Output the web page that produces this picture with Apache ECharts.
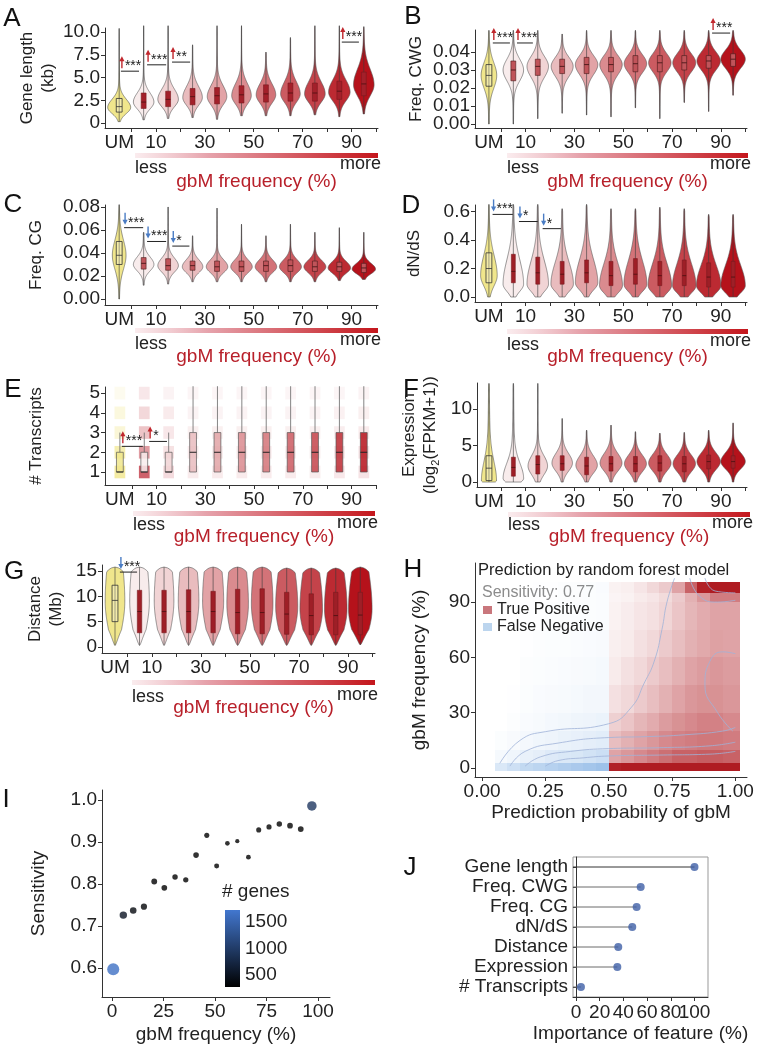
<!DOCTYPE html>
<html><head><meta charset="utf-8">
<script src="https://cdn.jsdelivr.net/npm/echarts@6/dist/echarts.min.js"></script>
<style>html,body{margin:0;padding:0;background:#fff}#c{width:761px;height:1048px}</style>
</head><body><div id="c"></div>
<script>
const FONT = 'Liberation Sans, Arial, Helvetica, sans-serif';

// ---------- categories / ticks ----------
const bins = ['UM','0-10','10-20','20-30','30-40','40-50','50-60','60-70','70-80','80-90','90-100'];
const binTickPos = [0.5,1.5,2.5,3.5,4.5,5.5,6.5,7.5,8.5,9.5,10.5];
const binLabelPos = [0,1.5,3.5,5.5,7.5,9.5];
const binLabelText = ['UM','10','30','50','70','90'];
const cwgTicks = [0,0.01,0.02,0.03,0.04];

// ---------- violin stats: [lo, mode, hi, halfWidth, sdBelow, sdAbove, tail, q1, median, q3] ----------
const geneLength = [
 [0.15,1.7,10.4,0.47,0.65,0.9,0.12,1.2,1.8,2.7],
 [0.35,2.3,10.7,0.42,0.75,1.0,0.12,1.6,2.3,3.3],
 [0.5,2.6,10.7,0.42,0.8,1.1,0.12,1.8,2.6,3.5],
 [0.6,2.8,8.6,0.40,0.85,1.2,0.12,2.0,2.9,3.8],
 [0.4,2.9,10.7,0.40,0.9,1.2,0.12,2.1,3.0,3.9],
 [0.8,3.0,10.7,0.40,0.9,1.3,0.12,2.2,3.1,4.1],
 [0.8,3.1,7.8,0.40,0.9,1.2,0.12,2.3,3.2,4.2],
 [0.8,3.2,9.4,0.40,0.9,1.3,0.12,2.4,3.3,4.4],
 [0.9,3.2,10.7,0.42,0.9,1.3,0.12,2.4,3.3,4.4],
 [0.7,3.4,10.7,0.44,0.95,1.3,0.12,2.6,3.5,4.6],
 [1.0,4.2,10.6,0.42,1.2,1.7,0.12,3.0,4.3,5.6]
];
const freqCWG = [
 [0.000,0.027,0.052,0.32,0.007,0.007,0.15,0.021,0.027,0.033],
 [0.000,0.030,0.052,0.42,0.006,0.006,0.12,0.024,0.030,0.035],
 [0.003,0.032,0.052,0.44,0.006,0.0055,0.12,0.027,0.032,0.036],
 [0.006,0.032,0.050,0.45,0.0055,0.005,0.12,0.028,0.032,0.036],
 [0.005,0.033,0.052,0.46,0.0055,0.005,0.12,0.028,0.033,0.037],
 [0.004,0.033,0.052,0.46,0.0055,0.005,0.12,0.029,0.033,0.037],
 [0.009,0.0335,0.052,0.46,0.005,0.005,0.12,0.029,0.0335,0.038],
 [0.003,0.034,0.052,0.46,0.005,0.005,0.12,0.029,0.034,0.038],
 [0.012,0.034,0.052,0.47,0.005,0.005,0.12,0.030,0.034,0.038],
 [0.007,0.035,0.052,0.48,0.005,0.005,0.12,0.031,0.035,0.038],
 [0.016,0.036,0.052,0.50,0.005,0.005,0.12,0.032,0.036,0.039]
];
const freqCG = [
 [0.000,0.038,0.082,0.28,0.012,0.013,0.15,0.030,0.038,0.050],
 [0.012,0.030,0.058,0.42,0.0055,0.0065,0.15,0.026,0.031,0.036],
 [0.013,0.029,0.080,0.42,0.0055,0.0065,0.12,0.025,0.029,0.035],
 [0.015,0.028,0.055,0.42,0.005,0.006,0.12,0.025,0.029,0.033],
 [0.015,0.028,0.079,0.44,0.005,0.006,0.12,0.024,0.028,0.033],
 [0.015,0.028,0.065,0.44,0.005,0.006,0.12,0.024,0.028,0.033],
 [0.015,0.028,0.055,0.44,0.005,0.006,0.12,0.024,0.029,0.033],
 [0.015,0.028,0.065,0.45,0.005,0.006,0.12,0.024,0.029,0.034],
 [0.015,0.028,0.058,0.45,0.005,0.0055,0.12,0.024,0.028,0.033],
 [0.016,0.027,0.062,0.46,0.0045,0.0055,0.12,0.024,0.028,0.032],
 [0.017,0.026,0.058,0.48,0.004,0.005,0.12,0.023,0.027,0.031]
];
const dNdS = [
 [0,0.15,0.65,0.34,0.07,0.14,0.15,0.10,0.20,0.31],
 [0,0.09,0.65,0.42,0.05,0.17,0.15,0.10,0.18,0.30],
 [0,0.09,0.65,0.44,0.05,0.16,0.15,0.09,0.17,0.28],
 [0,0.09,0.62,0.46,0.05,0.15,0.15,0.09,0.16,0.25],
 [0,0.10,0.65,0.46,0.05,0.16,0.15,0.10,0.17,0.26],
 [0,0.08,0.62,0.47,0.05,0.15,0.15,0.08,0.15,0.25],
 [0,0.09,0.62,0.47,0.05,0.16,0.15,0.09,0.16,0.27],
 [0,0.08,0.63,0.48,0.05,0.15,0.15,0.08,0.15,0.25],
 [0,0.08,0.62,0.48,0.05,0.15,0.15,0.08,0.15,0.26],
 [0,0.08,0.58,0.50,0.05,0.14,0.15,0.07,0.14,0.24],
 [0,0.08,0.58,0.50,0.05,0.14,0.15,0.07,0.14,0.25]
];
const expression = [
 [0,0.2,13.5,0.31,0.3,2.5,0.4,0.2,1.9,3.6],
 [0,0.5,13.5,0.42,0.6,2.0,0.3,0.8,2.0,3.4],
 [0,2.2,13.5,0.40,1.2,1.4,0.15,1.1,2.4,3.6],
 [0,2.6,8.7,0.42,1.1,1.3,0.12,1.6,2.5,3.6],
 [0,2.3,7.1,0.44,1.1,1.3,0.12,1.0,2.2,3.4],
 [0,2.6,7.8,0.45,1.1,1.3,0.12,1.5,2.5,3.5],
 [0,2.5,6.9,0.45,1.1,1.2,0.12,1.4,2.5,3.5],
 [0,2.6,6.7,0.46,1.1,1.2,0.12,1.5,2.6,3.6],
 [0,2.5,6.8,0.46,1.1,1.2,0.12,1.4,2.5,3.5],
 [0,2.8,7.1,0.48,1.1,1.2,0.12,1.8,2.8,3.7],
 [0,2.8,8.1,0.50,1.0,1.2,0.12,1.9,2.8,3.6]
];
const distance = [
 [0.3,9.0,15.8,0.40,6.0,10,0.1,5.0,9.2,12.2],
 [0.3,9.0,15.8,0.40,6.0,10,0.1,2.8,7.0,11.2],
 [0.3,9.0,15.8,0.40,6.0,10,0.1,2.8,7.0,11.2],
 [0.3,9.0,15.8,0.42,6.0,10,0.1,2.8,7.0,11.3],
 [0.3,9.0,15.8,0.43,6.0,10,0.1,2.8,7.0,11.0],
 [0.3,8.5,15.8,0.44,6.0,10,0.1,2.6,6.8,11.4],
 [0.3,8.5,15.8,0.44,6.0,10,0.1,2.6,6.8,11.5],
 [0.3,8.0,15.6,0.45,5.5,9,0.1,2.5,6.5,10.8],
 [0.3,7.5,15.6,0.46,5.0,9,0.1,2.4,6.2,10.5],
 [0.3,7.5,15.6,0.46,5.0,9,0.1,2.4,6.2,10.8],
 [0.4,7.5,15.8,0.48,5.0,9,0.1,2.4,6.3,10.8]
];
// # transcripts boxplots: [q1, median, q3, upper whisker]
const transcriptsBox = [
 [1,1,2,3],[1,1,2,3],[1,1,2,3],[1,2,3,5.35],[1,2,3,5.35],[1,2,3,5.35],
 [1,2,3,5.35],[1,2,3,5.35],[1,2,3,5.35],[1,2,3,5.35],[1,2,3,5.35]
];
// point-cloud intensity at 1..5 transcripts
const transcriptsDots = [
 [0.7,0.6,0.3,0.25,0.12],[0.8,0.5,0.3,0.2,0.12],[0.18,0.15,0.12,0.1,0.06],
 [0.1,0.1,0.08,0.06,0.05],[0.1,0.1,0.08,0.06,0.05],[0.1,0.1,0.08,0.06,0.05],
 [0.1,0.1,0.08,0.06,0.05],[0.1,0.1,0.08,0.06,0.05],[0.1,0.1,0.08,0.06,0.05],
 [0.12,0.12,0.09,0.07,0.05],[0.14,0.14,0.1,0.08,0.06]
];

// significance marks: [xStart, xEnd, y, nStars, direction(1 up / -1 down)]
const sigA = [[0.07,0.81,5.7,3,1],[1.14,1.92,6.4,3,1],[2.16,2.9,6.7,2,1],[9.1,9.8,8.9,3,1]];
const sigB = [[0.16,0.86,0.045,3,1],[1.15,1.8,0.045,3,1],[9.14,9.88,0.0505,3,1]];
const sigC = [[0.2,0.98,0.062,3,-1],[1.14,1.92,0.050,3,-1],[2.17,2.87,0.046,1,-1]];
const sigD = [[0.15,0.98,0.58,3,-1],[1.23,2.0,0.53,1,-1],[2.2,2.95,0.48,1,-1]];
const sigE = [[0.08,0.94,2.3,3,1],[1.2,1.93,2.55,1,1]];
const sigG = [[0.2,0.9,14.8,3,-1]];

// ---------- H: density of genes (prediction prob x gbM freq) ----------
const hYEdges = [-1.5,2.5,10,20,30,45,60,75,90,95,101];
const hBlueX = [0.05,0.10,0.15,0.20,0.25,0.30,0.35,0.40,0.45,0.50];
const hRedX = [0.50,0.55,0.60,0.65,0.70,0.75,0.80,0.85,0.90,0.95,1.02];
const hBlue = [
 [0.3,0.4,0.5,0.55,0.6,0.65,0.7,0.75,0.8],
 [0.08,0.12,0.18,0.22,0.27,0.3,0.32,0.37,0.42],
 [0.03,0.06,0.09,0.12,0.14,0.17,0.19,0.22,0.24],
 [0,0.02,0.05,0.07,0.09,0.11,0.13,0.14,0.16],
 [0,0.01,0.03,0.05,0.06,0.07,0.08,0.1,0.1],
 [0,0,0.02,0.03,0.04,0.05,0.06,0.07,0.08],
 [0,0,0.01,0.02,0.03,0.03,0.04,0.05,0.06],
 [0,0,0.01,0.01,0.02,0.02,0.03,0.03,0.04],
 [0,0,0,0.01,0.01,0.02,0.02,0.03,0.04],
 [0,0,0,0.01,0.01,0.02,0.02,0.03,0.05]
];
const hRed = [
 [0.85,0.88,0.9,0.92,0.93,0.94,0.95,0.95,0.95,0.95],
 [0.35,0.4,0.45,0.5,0.55,0.6,0.6,0.62,0.62,0.6],
 [0.25,0.3,0.35,0.4,0.45,0.48,0.5,0.52,0.52,0.5],
 [0.18,0.22,0.28,0.32,0.38,0.42,0.45,0.48,0.48,0.45],
 [0.12,0.15,0.2,0.25,0.3,0.35,0.4,0.42,0.42,0.4],
 [0.08,0.12,0.15,0.2,0.25,0.3,0.35,0.38,0.4,0.38],
 [0.06,0.08,0.12,0.15,0.2,0.25,0.3,0.33,0.36,0.35],
 [0.05,0.07,0.1,0.12,0.16,0.22,0.28,0.32,0.35,0.35],
 [0.04,0.05,0.08,0.1,0.14,0.2,0.3,0.4,0.5,0.5],
 [0.05,0.06,0.1,0.15,0.2,0.35,0.6,0.85,0.95,0.95]
];
const hContours = [
 [[0.07,2.5],[0.15,15],[0.25,19.7],[0.5,24],[0.59,33],[0.64,46],[0.68,58],[0.71,75],[0.73,90],[0.76,103]],
 [[0.11,1],[0.17,9],[0.3,13.5],[0.5,16.5],[0.65,17],[0.8,18],[0.95,20],[1.0,22]],
 [[0.17,1],[0.23,6],[0.35,9],[0.5,10.5],[0.7,11],[0.9,12],[1.0,14]],
 [[0.25,1],[0.3,4],[0.4,5.5],[0.5,6.5],[0.7,7],[0.9,7.5],[1.0,9]],
 [[0.99,20],[0.93,30],[0.88,45],[0.9,58],[0.95,63],[1.0,62]],
 [[0.82,103],[0.86,93],[0.93,90],[1.0,91]],
 [[0.88,103],[0.92,96],[1.0,95]]
];

// ---------- I: sensitivity per gbM frequency ----------
const iFreq = [0.6,5.5,10.3,15.5,20.5,25.4,30.6,35.8,40.8,46,50.8,56,60.8,66.2,71.2,76.2,81.2,86.4,91.6,97];
const iSens = [0.597,0.726,0.737,0.746,0.806,0.791,0.817,0.81,0.869,0.916,0.843,0.897,0.902,0.864,0.929,0.936,0.943,0.939,0.931,0.986];
const iGenes = [1650,520,380,330,280,260,230,210,250,190,180,150,110,160,190,200,230,260,270,950];

// ---------- J: feature importance ----------
const jFeatures = ['Gene length','Freq. CWG','Freq. CG','dN/dS','Distance','Expression','# Transcripts'];
const jImportance = [100,54.6,51.2,47.5,35.7,34.9,4.2];
const jTicks = [0,20,40,60,80,100];

// ---------- styles ----------
const PAL = ['#f0e68c','#f8ecec','#f1d4d5','#e9bcbe','#e2a3a6','#da8b8f','#d37378','#cb5b61','#c4434a','#bc2a32','#b5121b'];
const TXT = '#222';

function binLabel(v){ for (let k=0;k<binLabelPos.length;k++) if (Math.abs(binLabelPos[k]-v)<1e-6) return binLabelText[k]; return ''; }

function binXAxis(gi, min, max){
  return {type:'value', gridIndex:gi, min, max,
    axisLine:{show:true,onZero:false,lineStyle:{color:'#333',width:1}},
    axisTick:{show:true,customValues:binTickPos,length:4,lineStyle:{color:'#333'}},
    axisLabel:{show:true,interval:0,customValues:binLabelPos,formatter:binLabel,fontSize:19,color:TXT,margin:5,fontFamily:FONT,
      showMinLabel:true,showMaxLabel:true,hideOverlap:false},
    splitLine:{show:false}};
}
function valAxis(gi, min, max, ticks, fmt, extra){
  return Object.assign({type:'value', gridIndex:gi, min, max,
    axisLine:{show:true,onZero:false,lineStyle:{color:'#333',width:1}},
    axisTick:{show:true,customValues:ticks,length:4,lineStyle:{color:'#333'}},
    axisLabel:{show:true,interval:0,customValues:ticks,formatter:fmt,fontSize:19,color:TXT,margin:5,fontFamily:FONT,
      showMinLabel:true,showMaxLabel:true,hideOverlap:false},
    splitLine:{show:false},
    nameTextStyle:{fontSize:17,color:TXT,fontFamily:FONT,lineHeight:21}}, extra||{});
}
function yName(name, gap){ return {name, nameLocation:'middle', nameRotate:90, nameGap:gap}; }

function violinSeries(stats, ai, opt){
  return {type:'custom', xAxisIndex:ai, yAxisIndex:ai, clip:false, silent:true, z:2,
    data: stats.map((s,i)=>[i].concat(s)),
    renderItem(params, api){
      const v = k=>api.value(k);
      const i=v(0), lo=v(1), mode=v(2), hi=v(3), w=v(4), sL=v(5), sH=v(6), t=v(7), q1=v(8), med=v(9), q3=v(10);
      const N=90, R=[], L=[];
      for (let k=0;k<=N;k++){
        const y = lo+(hi-lo)*k/N;
        const z = (y-mode)/(y<mode?sL:sH);
        let f = (1-t)*Math.exp(-0.5*z*z) + t/(1+z*z/4);
        const fr = k/N;
        if (opt.tapLo>0 && fr<opt.tapLo) f *= Math.pow(fr/opt.tapLo,0.6);
        if (opt.tapHi>0 && 1-fr<opt.tapHi) f *= Math.pow((1-fr)/opt.tapHi,0.5);
        R.push(api.coord([i+w*f,y])); L.push(api.coord([i-w*f,y]));
      }
      const pts = R.concat(L.reverse());
      const um = i===0, bw = um?opt.umBoxW:opt.boxW;
      const b1=api.coord([i-bw,q3]), b2=api.coord([i+bw,q1]);
      const m1=api.coord([i-bw,med]), m2=api.coord([i+bw,med]);
      const c1=api.coord([i,lo]), c2=api.coord([i,hi]);
      return {type:'group', children:[
        {type:'polygon', shape:{points:pts}, style:{fill:PAL[i], stroke:'#555', lineWidth:0.6}},
        {type:'line', shape:{x1:c1[0],y1:c1[1],x2:c2[0],y2:c2[1]}, style:{stroke:'#3a3a3a',lineWidth:0.6}},
        {type:'rect', shape:{x:b1[0],y:b1[1],width:b2[0]-b1[0],height:b2[1]-b1[1]},
          style: um?{fill:'rgba(255,255,255,0.25)',stroke:'#333',lineWidth:0.8}:{fill:opt.boxFill,stroke:opt.boxStroke,lineWidth:0.6}},
        {type:'line', shape:{x1:m1[0],y1:m1[1],x2:m2[0],y2:m2[1]}, style:{stroke:um?'#333':opt.medStroke,lineWidth:0.8}}
      ]};
    }};
}
function sigSeries(sig, ai){
  return {type:'custom', xAxisIndex:ai, yAxisIndex:ai, clip:false, silent:true, z:5, data:sig,
    renderItem(params, api){
      const a=api.coord([api.value(0),api.value(2)]), b=api.coord([api.value(1),api.value(2)]);
      const n=api.value(3), dir=api.value(4), ax=a[0]+1, y=a[1];
      const col = dir>0?'#c0272d':'#4a7cc4';
      const ch=[{type:'line',shape:{x1:a[0],y1:y,x2:b[0],y2:y},style:{stroke:'#222',lineWidth:1}}];
      if (dir>0){
        ch.push({type:'line',shape:{x1:ax,y1:y-3,x2:ax,y2:y-11},style:{stroke:col,lineWidth:1.4}});
        ch.push({type:'polygon',shape:{points:[[ax-2.6,y-10],[ax+2.6,y-10],[ax,y-15]]},style:{fill:col}});
      } else {
        ch.push({type:'line',shape:{x1:ax,y1:y-15,x2:ax,y2:y-7},style:{stroke:col,lineWidth:1.4}});
        ch.push({type:'polygon',shape:{points:[[ax-2.6,y-8],[ax+2.6,y-8],[ax,y-3]]},style:{fill:col}});
      }
      ch.push({type:'text',style:{text:'*'.repeat(n),x:ax+3,y:y+2,fill:'#222',fontSize:14,fontFamily:FONT,align:'left',verticalAlign:'bottom'}});
      return {type:'group',children:ch};
    }};
}
function cellData(mat, xEdges){
  const out=[];
  mat.forEach((row,r)=>row.forEach((d,c)=>{ if(d>0) out.push([xEdges[c],xEdges[c+1],hYEdges[r],hYEdges[r+1],d]); }));
  return out;
}
function cellSeries(name, mat, xEdges, rgb, scale, legendColor){
  return {type:'custom', name, xAxisIndex:7, yAxisIndex:7, clip:false, silent:true, z:2,
    itemStyle:{color:legendColor},
    data: cellData(mat,xEdges),
    renderItem(params, api){
      const p1=api.coord([api.value(0),api.value(3)]), p2=api.coord([api.value(1),api.value(2)]);
      const x=Math.round(p1[0]), y=Math.round(p1[1]);
      return {type:'rect',shape:{x,y,width:Math.round(p2[0])-x,height:Math.round(p2[1])-y},
        style:{fill:'rgba('+rgb+','+Math.min(1,api.value(4)*scale).toFixed(3)+')'}};
    }};
}

const vOptA = {tapLo:0,tapHi:0.03,boxW:0.1,umBoxW:0.12,boxFill:'#a3202a',boxStroke:'#7a1a1f',medStroke:'#4a1010'};
const vOptB = {tapLo:0,tapHi:0.03,boxW:0.1,umBoxW:0.12,boxFill:'#c0545a',boxStroke:'#4a1a1a',medStroke:'#3a1010'};
const vOptD = {tapLo:0,tapHi:0.03,boxW:0.08,umBoxW:0.12,boxFill:'#9e1f27',boxStroke:'#7a1a1f',medStroke:'#4a1010'};
const vOptG = {tapLo:0.2,tapHi:0.06,boxW:0.09,umBoxW:0.12,boxFill:'#9e1f27',boxStroke:'#7a1a1f',medStroke:'#4a1010'};

const grids = [
 {left:105,top:28,width:273,height:100},   // A
 {left:475,top:30,width:272,height:98},    // B
 {left:105,top:205,width:273,height:100},  // C
 {left:475,top:205,width:272,height:97},   // D
 {left:105,top:387,width:271,height:98},   // E
 {left:477,top:383,width:270,height:104},  // F
 {left:102,top:565,width:273,height:88},   // G
 {left:475,top:563,width:272,height:214},  // H
 {left:102,top:790,width:228,height:207},  // I
 {left:573,top:857,width:135,height:140,show:true,borderColor:'#999',borderWidth:1}, // J
 {left:225,top:910,width:15,height:77}     // colorbar
];

const xAxes = [
 binXAxis(0,-0.58,10.58), binXAxis(1,-0.57,10.57), binXAxis(2,-0.58,10.58), binXAxis(3,-0.57,10.57),
 binXAxis(4,-0.61,10.5), binXAxis(5,-0.49,10.57), binXAxis(6,-0.53,10.6),
 valAxis(7,-0.028,1.046,[0,0.25,0.5,0.75,1],v=>v.toFixed(2),{name:'Prediction probability of gbM',nameLocation:'middle',nameGap:26,nameTextStyle:{fontSize:19,color:TXT,fontFamily:FONT}}),
 valAxis(8,-4.85,105.8,[0,25,50,75,100],v=>String(v),{name:'gbM frequency (%)',nameLocation:'middle',nameGap:28,nameTextStyle:{fontSize:19,color:TXT,fontFamily:FONT}}),
 Object.assign(valAxis(9,-2.5,111.4,jTicks,v=>String(v),{name:'Importance of feature (%)',nameLocation:'middle',nameGap:27,nameTextStyle:{fontSize:19,color:TXT,fontFamily:FONT}}),
   {axisLabel:{show:false}}),
 {type:'value',gridIndex:10,min:0,max:1,show:false}
];

const yAxes = [
 valAxis(0,-0.55,10.45,[0,2.5,5,7.5,10],v=>v===0?'0':v.toFixed(1),yName('Gene length\n(kb)',42)),
 Object.assign(valAxis(1,-0.0022,0.0522,cwgTicks,v=>v.toFixed(2),yName('Freq. CWG',48)),{axisLabel:{show:false}}),
 valAxis(2,-0.0052,0.0817,[0,0.02,0.04,0.06,0.08],v=>v.toFixed(2),yName('Freq. CG',58)),
 valAxis(3,-0.035,0.646,[0,0.2,0.4,0.6],v=>v.toFixed(1),yName('dN/dS',50)),
 valAxis(4,0.34,5.31,[1,2,3,4,5],v=>String(v),yName('# Transcripts',58)),
 valAxis(5,-0.68,13.56,[0,5,10],v=>String(v),Object.assign(yName('{a|Expression}\n{a|(log}{s|2}{a|(FPKM+1))}',36),
   {nameTextStyle:{fontSize:17,color:TXT,fontFamily:FONT,lineHeight:21,rich:{a:{fontSize:17,color:TXT,fontFamily:FONT,lineHeight:21},s:{fontSize:11,color:TXT,fontFamily:FONT,verticalAlign:'bottom',lineHeight:21,padding:[6,0,0,0]}}}})),
 valAxis(6,-1.2,16.2,[0,5,10,15],v=>String(v),yName('Distance\n(Mb)',35)),
 valAxis(7,-4.9,111.2,[0,30,60,90],v=>String(v),Object.assign(yName('gbM frequency (%)',46),{nameTextStyle:{fontSize:19,color:TXT,fontFamily:FONT}})),
 valAxis(8,0.531,1.024,[0.6,0.7,0.8,0.9,1.0],v=>v.toFixed(1),Object.assign(yName('Sensitivity',54),{nameTextStyle:{fontSize:19,color:TXT,fontFamily:FONT}})),
 {type:'category',gridIndex:9,data:jFeatures,inverse:true,
   axisLine:{show:true,lineStyle:{color:'#333'}},axisTick:{show:true,alignWithLabel:true,interval:0,length:3,lineStyle:{color:'#333'}},
   axisLabel:{interval:0,fontSize:19,lineHeight:14,color:TXT,margin:5,fontFamily:FONT},splitLine:{show:false}},
 {type:'value',gridIndex:10,position:'right',min:274,max:1727,
   axisLine:{show:false},axisTick:{show:true,inside:true,customValues:[500,1000,1500],length:3,lineStyle:{color:'#fff'}},
   axisLabel:{interval:0,customValues:[500,1000,1500],formatter:v=>String(v),fontSize:19,color:TXT,margin:5,fontFamily:FONT,hideOverlap:false},splitLine:{show:false}}
];

const series = [
 violinSeries(geneLength,0,vOptA), sigSeries(sigA,0),
 violinSeries(freqCWG,1,vOptB), sigSeries(sigB,1),
 violinSeries(freqCG,2,vOptB), sigSeries(sigC,2),
 violinSeries(dNdS,3,vOptD), sigSeries(sigD,3),
 {type:'custom', xAxisIndex:4, yAxisIndex:4, clip:false, silent:true, z:2,
  data: transcriptsBox.map((b,i)=>[i].concat(b).concat(transcriptsDots[i])),
  renderItem(params, api){
    const i=api.value(0), q1=api.value(1), med=api.value(2), q3=api.value(3), wh=api.value(4);
    const ch=[];
    for (let k=1;k<=5;k++){
      const p1=api.coord([i-0.22,k+0.32]), p2=api.coord([i+0.22,k-0.32]);
      ch.push({type:'rect',shape:{x:p1[0],y:p1[1],width:p2[0]-p1[0],height:p2[1]-p1[1]},
        style:{fill:i===0?'#efe27a':'#c23a46',opacity:api.value(4+k)}});
    }
    const w1=api.coord([i,q3]), w2=api.coord([i,wh]);
    ch.push({type:'line',shape:{x1:w1[0],y1:w1[1],x2:w2[0],y2:w2[1]},style:{stroke:'#666',lineWidth:0.8}});
    const b1=api.coord([i-0.14,q3]), b2=api.coord([i+0.14,q1]);
    ch.push({type:'rect',shape:{x:b1[0],y:b1[1],width:b2[0]-b1[0],height:b2[1]-b1[1]},
      style:{fill:i===0?'#f0e68c':PAL[i],opacity:0.85,stroke:'#555',lineWidth:0.8}});
    const m1=api.coord([i-0.14,med]), m2=api.coord([i+0.14,med]);
    ch.push({type:'line',shape:{x1:m1[0],y1:m1[1],x2:m2[0],y2:m2[1]},style:{stroke:'#222',lineWidth:1}});
    return {type:'group',children:ch};
  }},
 sigSeries(sigE,4),
 violinSeries(expression,5,vOptD),
 violinSeries(distance,6,vOptG), sigSeries(sigG,6),
 cellSeries('False Negative',hBlue,hBlueX,'120,170,225',0.9,'#bcd5ee'),
 cellSeries('True Positive',hRed,hRedX,'175,28,34',1.15,'#c9777c')
];
hContours.forEach(c=>series.push({type:'line',xAxisIndex:7,yAxisIndex:7,data:c,smooth:true,showSymbol:false,silent:true,z:3,
  lineStyle:{color:'#9fb2d8',width:0.8}}));
series.push({type:'scatter',xAxisIndex:8,yAxisIndex:8,z:3,
  data:iFreq.map((x,k)=>[x,iSens[k],iGenes[k]]),
  symbolSize:val=>1.5+Math.sqrt(val[2])*0.26});
const iSeriesIndex = series.length-1;
series.push({type:'custom',xAxisIndex:10,yAxisIndex:10,clip:false,silent:true,data:[[0,274,1,1727]],
  renderItem(params, api){
    const p1=api.coord([api.value(0),api.value(3)]), p2=api.coord([api.value(2),api.value(1)]);
    return {type:'rect',shape:{x:p1[0],y:p1[1],width:p2[0]-p1[0],height:p2[1]-p1[1]},
      style:{fill:{type:'linear',x:0,y:0,x2:0,y2:1,colorStops:[{offset:0,color:'#4277cf'},{offset:1,color:'#000000'}]}}};
  }});
function jLineColor(k){ return k===0?'#333':'#6a6a6a'; }
series.push({type:'custom',xAxisIndex:9,yAxisIndex:9,clip:false,silent:true,z:2,
  data:jImportance.map((v,i)=>[v,i]),
  renderItem(params, api){
    const p=api.coord([api.value(0),api.value(1)]);
    return {type:'line',shape:{x1:params.coordSys.x,y1:p[1],x2:p[0],y2:p[1]},style:{stroke:jLineColor(api.value(1)),lineWidth:1}};
  }});
series.push({type:'scatter',xAxisIndex:9,yAxisIndex:9,z:3,data:jImportance.map((v,i)=>[v,i]),symbolSize:8,itemStyle:{color:'#3f5fa6'}});
// J x tick labels (placed through the axis scale)
series.push({type:'custom',xAxisIndex:9,yAxisIndex:9,clip:false,silent:true,z:4,
  data:jTicks.map(v=>[v,0]),
  renderItem(params, api){
    const p=api.coord([api.value(0),0]);
    const y=params.coordSys.y+params.coordSys.height+6;
    return {type:'text',style:{text:String(api.value(0)),x:p[0],y,fill:TXT,fontSize:19,fontFamily:FONT,align:'center',verticalAlign:'top'}};
  }});
// B y tick labels (placed through the axis scale)
series.push({type:'custom',xAxisIndex:1,yAxisIndex:1,clip:false,silent:true,z:4,
  data:cwgTicks.map(v=>[0,v]),
  renderItem(params, api){
    const p=api.coord([0,api.value(1)]);
    return {type:'text',style:{text:api.value(1).toFixed(2),x:params.coordSys.x-5,y:p[1],fill:TXT,fontSize:19,fontFamily:FONT,align:'right',verticalAlign:'middle'}};
  }});

// ---------- decorations (gradient bars, labels, panel letters) ----------
const gradFill = {type:'linear',x:0,y:0,x2:1,y2:0,colorStops:[{offset:0,color:'rgba(236,180,188,0.25)'},{offset:0.3,color:'#e6a3ac'},{offset:1,color:'#c4161c'}]};
const graphic = [];
function decor(x0,x1,yb,yl,yg,ym){
  graphic.push({type:'rect',shape:{x:x0,y:yb,width:x1-x0,height:5},style:{fill:gradFill},silent:true});
  graphic.push({type:'text',x:x0,y:yl,style:{text:'less',fontSize:18,fontFamily:FONT,fill:TXT,align:'left',verticalAlign:'middle'}});
  graphic.push({type:'text',x:(x0+x1)/2,y:yg,style:{text:'gbM frequency (%)',fontSize:19,fontFamily:FONT,fill:'#b8202a',align:'center',verticalAlign:'middle'}});
  graphic.push({type:'text',x:x1+3,y:ym,style:{text:'more',fontSize:18,fontFamily:FONT,fill:TXT,align:'right',verticalAlign:'middle'}});
}
decor(135,378,153,168,182,164);
decor(507,748,153,168,182,164);
decor(135,378,328,344,357,340);
decor(507,748,329,345,357,341);
decor(133,375,511,525,537,523);
decor(508,750,512,525,537,523);
decor(132,375,680,697,708,695);
[['A',12,19],['B',413,17],['C',13,205],['D',411,206],['E',13,390],['F',411,390],['G',14,572],['H',413,570],['I',6,800],['J',410,868]]
 .forEach(([t,x,y])=>graphic.push({type:'text',x,y,style:{text:t,fontSize:26,fontFamily:FONT,fill:'#111',align:'center',verticalAlign:'middle'}}));
graphic.push({type:'text',x:478,y:570,style:{text:'Prediction by random forest model',fontSize:16.5,fontFamily:FONT,fill:TXT,align:'left',verticalAlign:'middle'}});
graphic.push({type:'text',x:482,y:593,style:{text:'Sensitivity: 0.77',fontSize:16,fontFamily:FONT,fill:'#8c8c8c',align:'left',verticalAlign:'middle'}});
graphic.push({type:'text',x:222,y:892,style:{text:'# genes',fontSize:19,fontFamily:FONT,fill:TXT,align:'left',verticalAlign:'middle'}});

const chart = echarts.init(document.getElementById('c'), null, {renderer:'canvas'});
chart.setOption({
  animation:false, backgroundColor:'#fff',
  textStyle:{fontFamily:FONT},
  grid:grids, xAxis:xAxes, yAxis:yAxes, series, graphic,
  legend:{data:['True Positive','False Negative'],left:483,top:602,orient:'vertical',itemWidth:9,itemHeight:8,itemGap:1,icon:'rect',
    selectedMode:false,padding:0,textStyle:{fontSize:16,fontFamily:FONT,color:TXT}},
  visualMap:[{type:'continuous',show:false,seriesIndex:iSeriesIndex,dimension:2,min:274,max:1727,inRange:{color:['#000000','#4277cf']}}]
});
</script></body></html>
